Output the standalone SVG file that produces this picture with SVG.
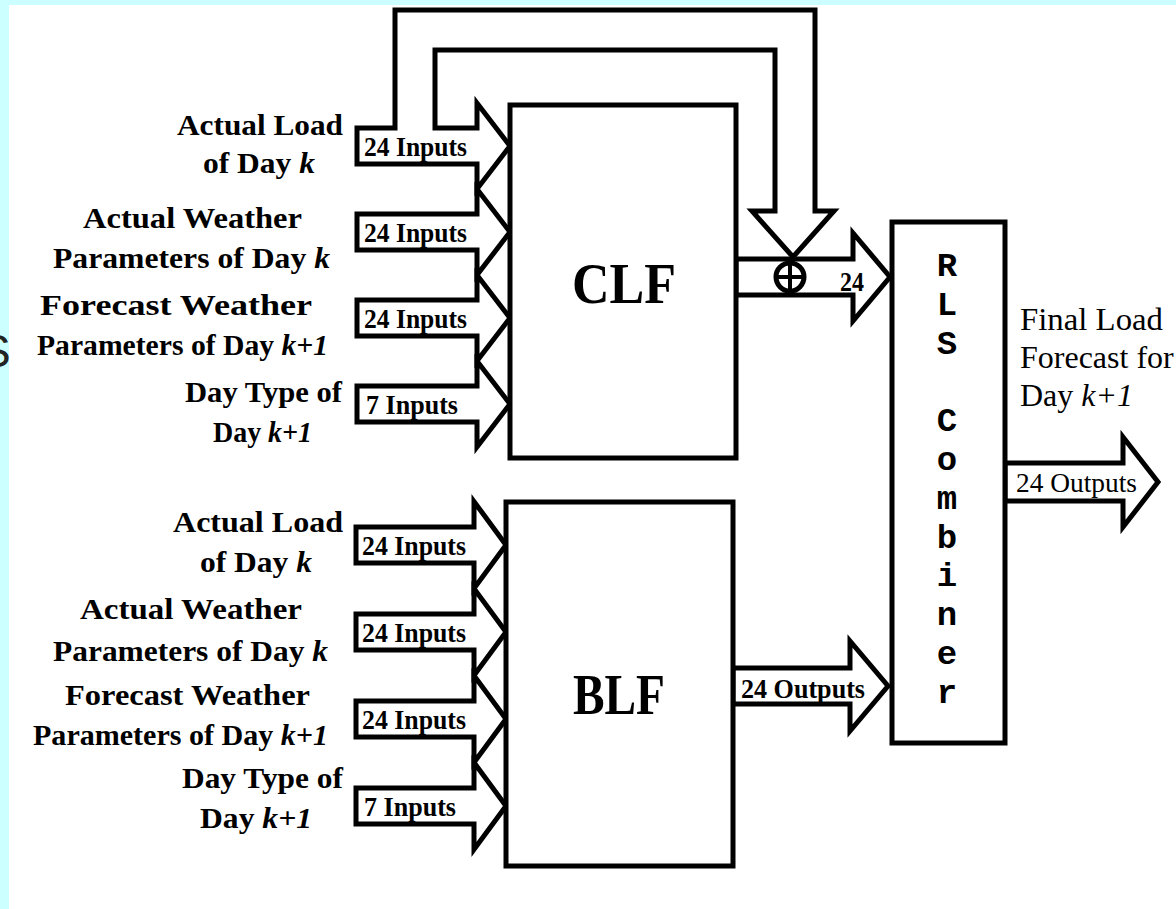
<svg xmlns="http://www.w3.org/2000/svg" width="1176" height="909" viewBox="0 0 1176 909">
<style>
.bg{fill:#ccffff}
.shape{fill:#fff;stroke:#000;stroke-width:5;stroke-linejoin:miter}
.lbl{font-family:"Liberation Serif","Times New Roman",serif;font-weight:bold;font-size:30px;fill:#000}
.tag{font-family:"Liberation Serif","Times New Roman",serif;font-weight:bold;font-size:27px;fill:#000}
.tagr{font-family:"Liberation Serif","Times New Roman",serif;font-size:27px;fill:#000}
.out{font-family:"Liberation Serif","Times New Roman",serif;font-size:32px;fill:#000}
.big{font-family:"Liberation Serif","Times New Roman",serif;font-weight:bold;font-size:58px;fill:#000}
.mono{font-family:"Liberation Mono","Courier New",monospace;font-weight:bold;font-size:34px;fill:#000}
.it{font-style:italic}
</style>
<rect x="0" y="0" width="1176" height="909" fill="#fff"/>
<rect class="bg" x="0" y="0" width="1176" height="5"/>
<rect class="bg" x="0" y="0" width="9" height="909"/>
<text x="-20" y="367" font-family="Liberation Sans, Arial, sans-serif" font-size="46" fill="#222">S</text>

<g id="connectors">
  <!-- CLF inputs, first one with feedback loop -->
  <polygon class="shape" points="357,128 395,128 395,10 815,10 815,211 834,211 793,257 752,211 775,211 775,50 435,50 435,128 477,128 477,103 510,146 477,189 477,164 357,164"/>
  <polygon class="shape" points="357,214 477,214 477,189 510,232 477,275 477,250 357,250"/>
  <polygon class="shape" points="357,300 477,300 477,275 510,318 477,361 477,336 357,336"/>
  <polygon class="shape" points="357,386 477,386 477,361 510,404 477,447 477,422 357,422"/>
  <!-- BLF inputs -->
  <polygon class="shape" points="356,527 474,527 474,501.5 506,545 474,588.5 474,563 356,563"/>
  <polygon class="shape" points="356,614 474,614 474,588.5 506,632 474,675.5 474,650 356,650"/>
  <polygon class="shape" points="356,701 474,701 474,675.5 506,719 474,762.5 474,737 356,737"/>
  <polygon class="shape" points="356,788 474,788 474,762.5 506,806 474,849.5 474,824 356,824"/>
  <!-- CLF output -->
  <polygon class="shape" points="736,259 853,259 853,233 890,277 853,321 853,295 736,295"/>
  <circle class="shape" cx="790" cy="277" r="14" stroke-width="4"/>
  <path d="M776,277 H804 M790,263 V291" stroke="#000" stroke-width="4" fill="none"/>
  <!-- BLF output -->
  <polygon class="shape" points="733,668 850,668 850,641 888,686 850,731 850,704 733,704"/>
  <!-- Final output -->
  <polygon class="shape" points="1005,463 1123,463 1123,437 1158,482 1123,527 1123,501 1005,501"/>

  <text class="tag" x="364" y="156" textLength="103" lengthAdjust="spacingAndGlyphs">24 Inputs</text>
  <text class="tag" x="364" y="242" textLength="103" lengthAdjust="spacingAndGlyphs">24 Inputs</text>
  <text class="tag" x="364" y="328" textLength="103" lengthAdjust="spacingAndGlyphs">24 Inputs</text>
  <text class="tag" x="366" y="414" textLength="92" lengthAdjust="spacingAndGlyphs">7 Inputs</text>
  <text class="tag" x="362" y="555" textLength="104" lengthAdjust="spacingAndGlyphs">24 Inputs</text>
  <text class="tag" x="362" y="642" textLength="104" lengthAdjust="spacingAndGlyphs">24 Inputs</text>
  <text class="tag" x="362" y="729" textLength="104" lengthAdjust="spacingAndGlyphs">24 Inputs</text>
  <text class="tag" x="364" y="816" textLength="92" lengthAdjust="spacingAndGlyphs">7 Inputs</text>
  <text class="tag" x="840" y="291" textLength="24" lengthAdjust="spacingAndGlyphs">24</text>
  <text class="tag" x="741" y="698" textLength="124" lengthAdjust="spacingAndGlyphs">24 Outputs</text>
  <text class="tagr" x="1016" y="492" textLength="121" lengthAdjust="spacingAndGlyphs">24 Outputs</text>
</g>

<g id="clf-labels">
  <text class="lbl" x="177" y="135" textLength="166" lengthAdjust="spacingAndGlyphs">Actual Load</text>
  <text class="lbl" x="203" y="173" textLength="112" lengthAdjust="spacingAndGlyphs">of Day <tspan class="it">k</tspan></text>
  <text class="lbl" x="83" y="228" textLength="219" lengthAdjust="spacingAndGlyphs">Actual Weather</text>
  <text class="lbl" x="53" y="268" textLength="277" lengthAdjust="spacingAndGlyphs">Parameters of Day <tspan class="it">k</tspan></text>
  <text class="lbl" x="40" y="315" textLength="272" lengthAdjust="spacingAndGlyphs">Forecast Weather</text>
  <text class="lbl" x="37" y="355" textLength="291" lengthAdjust="spacingAndGlyphs">Parameters of Day <tspan class="it">k+1</tspan></text>
  <text class="lbl" x="185" y="402" textLength="157" lengthAdjust="spacingAndGlyphs">Day Type of</text>
  <text class="lbl" x="213" y="442" textLength="99" lengthAdjust="spacingAndGlyphs">Day <tspan class="it">k+1</tspan></text>
</g>

<g id="blf-labels">
  <text class="lbl" x="173" y="532" textLength="170" lengthAdjust="spacingAndGlyphs">Actual Load</text>
  <text class="lbl" x="200" y="572" textLength="112" lengthAdjust="spacingAndGlyphs">of Day <tspan class="it">k</tspan></text>
  <text class="lbl" x="80" y="619" textLength="222" lengthAdjust="spacingAndGlyphs">Actual Weather</text>
  <text class="lbl" x="53" y="661" textLength="275" lengthAdjust="spacingAndGlyphs">Parameters of Day <tspan class="it">k</tspan></text>
  <text class="lbl" x="65" y="705" textLength="245" lengthAdjust="spacingAndGlyphs">Forecast Weather</text>
  <text class="lbl" x="33" y="745" textLength="295" lengthAdjust="spacingAndGlyphs">Parameters of Day <tspan class="it">k+1</tspan></text>
  <text class="lbl" x="182" y="788" textLength="161" lengthAdjust="spacingAndGlyphs">Day Type of</text>
  <text class="lbl" x="200" y="828" textLength="112" lengthAdjust="spacingAndGlyphs">Day <tspan class="it">k+1</tspan></text>
</g>

<g id="clf">
  <rect class="shape" x="510" y="105" width="226" height="353"/>
  <text class="big" x="624" y="303" text-anchor="middle" textLength="104" lengthAdjust="spacingAndGlyphs">CLF</text>
</g>

<g id="blf">
  <rect class="shape" x="506" y="502" width="227" height="364"/>
  <text class="big" x="619" y="714" text-anchor="middle" textLength="92" lengthAdjust="spacingAndGlyphs">BLF</text>
</g>

<g id="rls-combiner">
  <rect class="shape" x="892" y="222" width="113" height="521"/>
  <g class="mono" text-anchor="middle">
    <text x="947" y="276">R</text>
    <text x="947" y="315">L</text>
    <text x="947" y="354">S</text>
    <text x="947" y="431">C</text>
    <text x="947" y="470">o</text>
    <text x="947" y="509">m</text>
    <text x="947" y="548">b</text>
    <text x="947" y="586">i</text>
    <text x="947" y="625">n</text>
    <text x="947" y="664">e</text>
    <text x="947" y="703">r</text>
  </g>
</g>

<g id="final-output">
  <text class="out" x="1020" y="330" textLength="143" lengthAdjust="spacingAndGlyphs">Final Load</text>
  <text class="out" x="1020" y="368">Forecast for</text>
  <text class="out" x="1020" y="406">Day <tspan class="it">k+1</tspan></text>
</g>
</svg>
